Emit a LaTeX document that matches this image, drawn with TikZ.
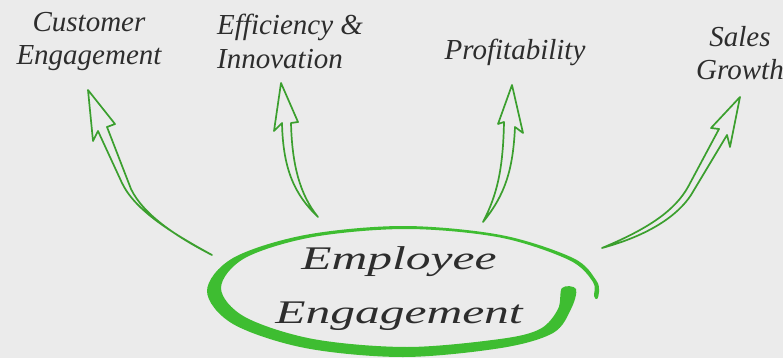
\documentclass[tikz,border=0pt]{standalone}
\usepackage{fontspec}
\setmainfont{Liberation Serif}
\newfontfamily\wideserif[FakeStretch=1.5]{Liberation Serif}
\usetikzlibrary{positioning}
\definecolor{paper}{HTML}{EBEBEB}
\definecolor{ringgreen}{HTML}{3EBD31}
\definecolor{arrowgreen}{HTML}{3B9F2E}
\definecolor{ink}{HTML}{2D2D2D}

\begin{document}
\begin{tikzpicture}[x=1pt, y=-1pt,
          goal/.style = {font=\fontsize{29}{33.5}\selectfont\itshape, text=ink, inner sep=0pt},
          hub/.style = {font=\wideserif\fontsize{33}{54}\selectfont\itshape, text=ink, inner sep=0pt},
          sketch/.style = {draw=arrowgreen, line width=1.7pt, line join=round}]
        \fill[paper] (0,0) rectangle (783,358);
        \useasboundingbox (0,0) rectangle (783,358);
        % labels
        \node[goal, align=center, anchor=north] (cust) at (89,12) {Customer\\Engagement};
        \node[goal, align=left, anchor=north west] (effi) at (217,14) {Efficiency \&\\Innovation};
        \node[goal, anchor=base] (prof) at (515,60) {Profitability};
        \node[goal, align=center, anchor=north] (sales) at (740,26) {Sales\\Growth};
        \node[hub, align=center, anchor=north] (emp) at (399,246) {Employee\\Engagement};
        % ring round the centre
        \fill[ringgreen] plot[smooth cycle, tension=.55] coordinates {
          (576,289) (571,309) (553,333) (501,348) (403,357) (305,348) (233,324)
          (207,291) (233,258) (305,235) (403,226) (501,235) (573,258) (596,280)
          (599,292) (597,299) (594,296) (593,282) (569,260) (500,237.5) (407,229)
          (313,237) (245,258) (221,288) (245,317) (313,339) (407,347) (500,339)
          (540,329) (558,309) (562,288)};
        % arrows
        \coordinate (t1) at (212,255);
        \coordinate (h1) at (88,90);
        \coordinate (t2) at (318,217);
        \coordinate (h2) at (281,83);
        \coordinate (t3) at (483,222);
        \coordinate (h3) at (512,85);
        \coordinate (t4) at (602,248);
        \coordinate (h4) at (740,97);
        \draw[sketch] (t1) .. controls (170,232) and (135,210) .. (122,183) -- (98,131) -- (93,141)
              -- (h1) -- (115,124) -- (107,127) -- (131,189) .. controls (143,214) and (175,236) .. (t1) -- cycle;
        \draw[sketch] (t2) .. controls (295,195) and (283,170) .. (282,123) -- (274,131)
              -- (h2) -- (298,122) -- (291,123) .. controls (292,165) and (300,195) .. (t2) -- cycle;
        \draw[sketch] (t3) .. controls (497,195) and (503,170) .. (504,122) -- (498,124)
              -- (h3) -- (523,133) -- (515,127) .. controls (513,170) and (505,195) .. (t3) -- cycle;
        \draw[sketch] (t4) .. controls (650,228) and (675,210) .. (688,187) -- (719,129) -- (711,128)
              -- (h4) -- (730,147) -- (727,135) -- (691,195) .. controls (678,215) and (650,235) .. (t4) -- cycle;
\end{tikzpicture}
\end{document}
